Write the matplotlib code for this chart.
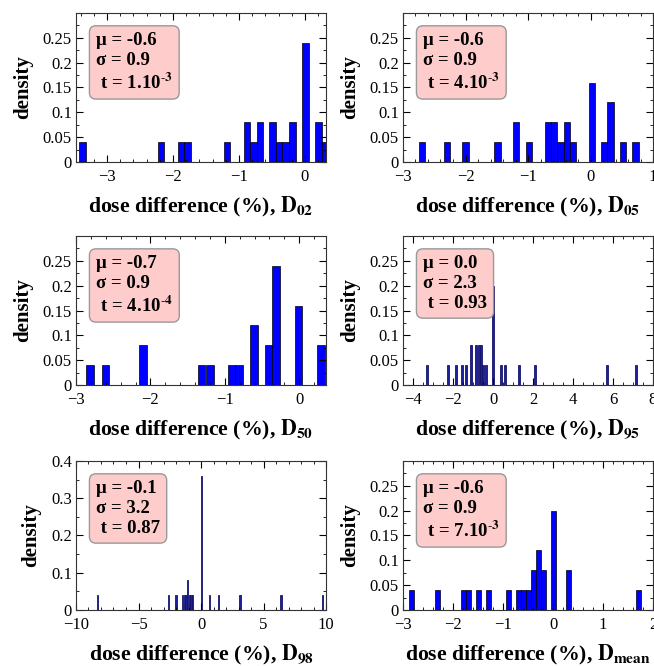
import numpy as np
import matplotlib
matplotlib.use("Agg")
import matplotlib.pyplot as plt
from matplotlib.ticker import AutoMinorLocator, FormatStrFormatter

plt.rcParams['font.family'] = ['Liberation Serif', 'DejaVu Serif']
plt.rcParams['mathtext.fontset'] = 'stix'

# bin centres (dose difference, %) and density of each bin
d02_x = [-3.37, -2.18, -1.88, -1.78, -1.18, -0.88, -0.78, -0.68, -0.49, -0.39, -0.29, -0.19, 0.01, 0.21, 0.31]
d02_y = [0.04, 0.04, 0.04, 0.04, 0.04, 0.08, 0.04, 0.08, 0.08, 0.04, 0.04, 0.08, 0.24, 0.08, 0.04]

d05_x = [-2.70, -2.30, -2.00, -1.49, -1.19, -0.99, -0.68, -0.58, -0.48, -0.38, -0.28, 0.02, 0.22, 0.32, 0.52, 0.72]
d05_y = [0.04, 0.04, 0.04, 0.04, 0.08, 0.04, 0.08, 0.08, 0.04, 0.08, 0.04, 0.16, 0.04, 0.12, 0.04, 0.04]

d50_x = [-2.81, -2.60, -2.10, -1.31, -1.20, -0.91, -0.81, -0.61, -0.41, -0.31, -0.01, 0.29]
d50_y = [0.04, 0.04, 0.08, 0.04, 0.04, 0.04, 0.04, 0.12, 0.08, 0.24, 0.16, 0.08]

d95_x = [-3.32, -2.27, -1.85, -1.55, -1.33, -1.12, -0.83, -0.70, -0.58, -0.50, -0.33, 0.0, 0.38, 0.62, 1.30, 2.10, 5.72, 7.13]
d95_y = [0.04, 0.04, 0.04, 0.04, 0.04, 0.08, 0.08, 0.08, 0.08, 0.04, 0.04, 0.20, 0.04, 0.04, 0.04, 0.04, 0.04, 0.04]

d98_x = [-8.29, -2.59, -2.0, -1.47, -1.33, -1.2, -1.07, -0.93, -0.8, -0.67, 0.03, 0.67, 1.39, 3.12, 6.4, 9.73]
d98_y = [0.04, 0.04, 0.04, 0.04, 0.04, 0.04, 0.08, 0.04, 0.04, 0.04, 0.36, 0.04, 0.04, 0.04, 0.04, 0.04]

dmean_x = [-2.82, -2.30, -1.80, -1.70, -1.50, -1.30, -0.90, -0.70, -0.60, -0.50, -0.40, -0.30, -0.20, 0.0, 0.30, 1.71]
dmean_y = [0.04, 0.04, 0.04, 0.04, 0.04, 0.04, 0.04, 0.04, 0.04, 0.04, 0.08, 0.12, 0.08, 0.20, 0.08, 0.04]

names = ['02', '05', '50', '95', '98', 'mean']
stats = [('-0.6', '0.9', '1.10$^{\\text{-}\\mathbf{3}}$'),
         ('-0.6', '0.9', '4.10$^{\\text{-}\\mathbf{3}}$'),
         ('-0.7', '0.9', '4.10$^{\\text{-}\\mathbf{4}}$'),
         ('0.0', '2.3', '0.93'),
         ('-0.1', '3.2', '0.87'),
         ('-0.6', '0.9', '7.10$^{\\text{-}\\mathbf{3}}$')]
xs = [d02_x, d05_x, d50_x, d95_x, d98_x, dmean_x]
ys = [d02_y, d05_y, d50_y, d95_y, d98_y, dmean_y]
xlims = [(-3.47, 0.32), (-3, 1), (-3, 0.36), (-4.5, 8), (-10, 10), (-3, 2)]
xsteps = [1, 1, 1, 2, 5, 1]

fig = plt.figure(figsize=(6.54, 6.66), dpi=100)
lefts = [0.1162, 0.6162]
bottoms = [0.7568, 0.4219, 0.0841]
w, h = 0.3823, 0.2237

for i in range(6):
    ax = fig.add_axes([lefts[i % 2], bottoms[i // 2], w, h])
    narrow = names[i] in ('95', '98')
    if narrow:
        ax.bar(xs[i], ys[i], width=0.1, color='#1f1f9c', edgecolor='#14146e', linewidth=0.6)
    else:
        ax.bar(xs[i], ys[i], width=0.1, color='#0000ff', edgecolor='black', linewidth=0.5)
    ax.set_xlim(*xlims[i])
    lo, hi = xlims[i]
    st = xsteps[i]
    ax.set_xticks(np.arange(np.ceil(lo / st) * st, hi + 1e-9, st))
    if names[i] == '98':
        ax.set_ylim(0, 0.4)
        ax.set_yticks([0, 0.1, 0.2, 0.3, 0.4])
    else:
        ax.set_ylim(0, 0.3)
        ax.set_yticks([0, 0.05, 0.1, 0.15, 0.2, 0.25])
    ax.yaxis.set_major_formatter(FormatStrFormatter('%g'))
    ax.xaxis.set_minor_locator(AutoMinorLocator())
    ax.yaxis.set_minor_locator(AutoMinorLocator(2))
    ax.tick_params(which='both', direction='in', top=True, right=True, labelsize=12)
    ax.tick_params(axis='x', pad=5)
    ax.tick_params(axis='y', pad=3)
    ax.tick_params(which='major', length=5)
    ax.tick_params(which='minor', length=2.5)
    for s in ax.spines.values():
        s.set_linewidth(0.8)
        s.set_color('#333333')
    ax.set_xlabel('dose difference (%), $\\mathbf{D_{' + names[i] + '}}$', fontsize=15.7, fontweight='bold', labelpad=7)
    ax.set_ylabel('density', fontsize=15, fontweight='bold', labelpad=7)
    mu, sd, t = stats[i]
    txt = '\u03bc = ' + mu + '\n\u03c3 = ' + sd + '\n t = ' + t
    ax.text(0.08, 0.87, txt, transform=ax.transAxes, ha='left', va='top', fontsize=13.5, fontweight='bold',
            linespacing=1.2,
            bbox=dict(boxstyle='round,pad=0.35', fc='#ffcccc', ec='#999999', lw=1))

fig.savefig('out.png', dpi=100)
